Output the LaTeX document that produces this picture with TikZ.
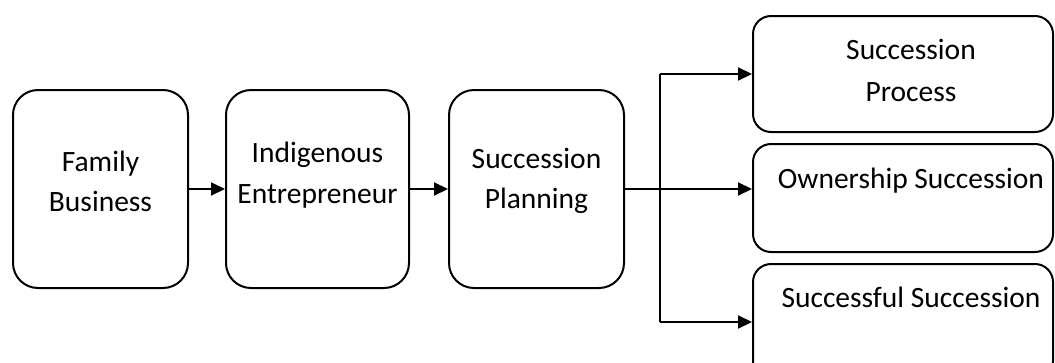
\documentclass[tikz,border=0pt]{standalone}
\usepackage{fontspec}
\setmainfont{Carlito}
\usetikzlibrary{arrows.meta,calc}
\tikzset{
  box/.style={draw=black, line width=2pt, rounded corners=25pt, inner sep=0pt, fill=white},
  rbox/.style={draw=black, line width=2pt, rounded corners=18pt, inner sep=0pt, fill=white},
  lbl/.style={anchor=base, inner sep=0pt, font=\fontsize{29.5}{35}\selectfont},
  arr/.style={line width=2pt, -{Triangle[length=14pt,width=13pt]}},
  ln/.style={line width=2pt}
}
\begin{document}
\begin{tikzpicture}[x=1pt,y=-1pt]
\useasboundingbox (0,0) rectangle (1055,362);
\begin{scope}
\clip (0,0) rectangle (1055,362);
% left boxes
\node[box, minimum width=175pt, minimum height=198pt] (b1) at (100.5,189) {};
\node[box, minimum width=183pt, minimum height=198pt] (b2) at (317.5,189) {};
\node[box, minimum width=175pt, minimum height=198pt] (b3) at (536.5,189) {};
% right boxes
\node[rbox, minimum width=300pt, minimum height=116pt] (r1) at (903,74) {};
\node[rbox, minimum width=300pt, minimum height=108pt] (r2) at (903,198) {};
\node[rbox, minimum width=300pt, minimum height=116pt] (r3) at (903,322) {};
\end{scope}
% texts
\node[lbl] (t1a) at (100.5,171) {Family};
\node[lbl] (t1b) at (100.5,211) {Business};
\node[lbl] (t2a) at (317.5,162) {Indigenous};
\node[lbl] (t2b) at (317.5,203) {Entrepreneur};
\node[lbl] (t3a) at (536.5,168) {Succession};
\node[lbl] (t3b) at (536.5,208) {Planning};
\node[lbl] (t4a) at (911,59) {Succession};
\node[lbl] (t4b) at (911,101) {Process};
\node[lbl] (t5) at (911,188) {Ownership Succession};
\node[lbl] (t6) at (911,307) {Successful Succession};
% connectors
\draw[arr] (b1.east) -- (b2.west);
\draw[arr] (b2.east) -- (b3.west);
\draw[arr] (b3.east) -- (b3.east -| r2.west);
\coordinate (jt) at (660,74);
\coordinate (jb) at (660,322);
\draw[ln] (jt) -- (jb);
\draw[arr] (jt) -- (r1.west);
\draw[arr] (jb) -- (r3.west);
\end{tikzpicture}
\end{document}
